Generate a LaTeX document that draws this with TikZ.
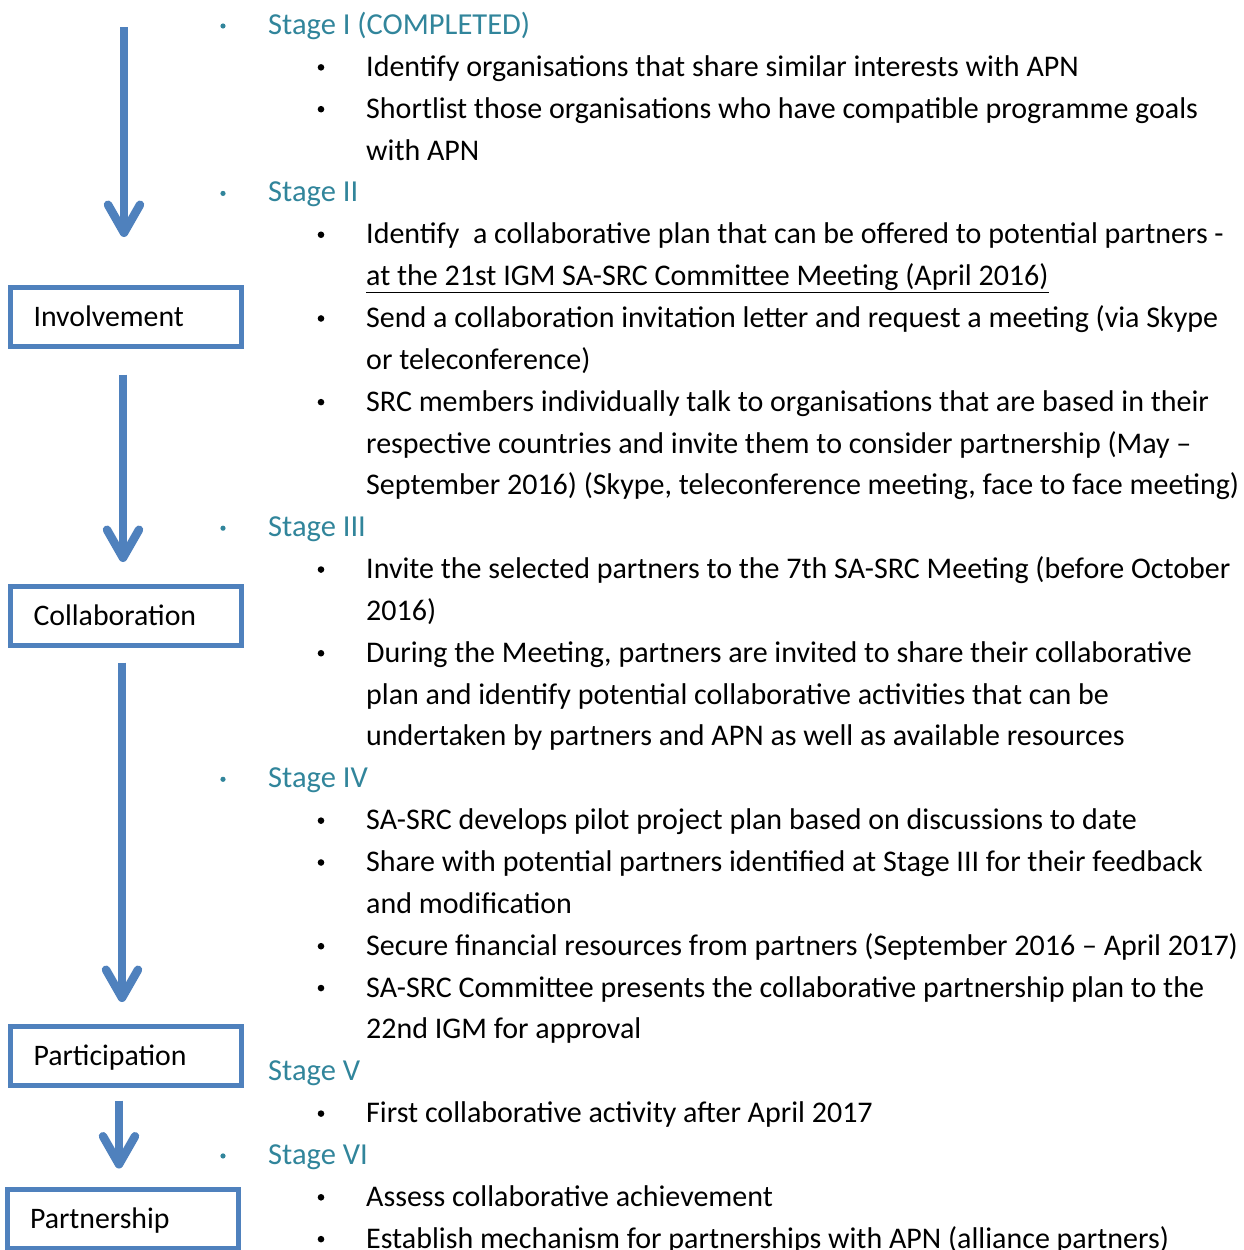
\documentclass[tikz,border=0pt]{standalone}
\usepackage{fontspec}
\setmainfont{Carlito}
\usetikzlibrary{arrows.meta, positioning}
\definecolor{stageteal}{RGB}{49, 133, 155}
\definecolor{flowblue}{RGB}{79, 129, 189}

\begin{document}
\begin{tikzpicture}[x=1pt, y=-1pt,
    phase/.style={draw=flowblue, line width=5pt, minimum width=231pt, minimum height=59pt,
        text width=185pt, inner xsep=23pt, align=left, text height=19.5pt, text depth=0pt,
        font=\fontsize{29.8}{34}\selectfont},
    flow/.style={flowblue, line width=8.5pt,
        -{Straight Barb[length=28pt, width=32pt, line cap=round, line join=round]}},
    stagetxt/.style={anchor=base west, inner sep=0pt, text=stageteal, font=\fontsize{30.5}{34}\selectfont},
    itemtxt/.style={anchor=base west, inner sep=0pt, font=\fontsize{30}{34}\selectfont}]
    \useasboundingbox (0,0) rectangle (1244,1250);

    % left column: the four phases
    \node[phase] (involve) at (126,317) {Involvement};
    \node[phase] (collab) at (126,616) {Collaboration};
    \node[phase] (particip) at (126,1056) {Participation};
    \node[phase] (partner) at (122.5,1218.5) {Partnership};

    \coordinate (start) at (124,27);
    \draw[flow, shorten >=48pt] (start) -- (start |- involve.north);
    \draw[flow, shorten <=25.5pt, shorten >=22pt] ([xshift=-3pt]involve.south) -- ([xshift=-3pt]collab.north);
    \draw[flow, shorten <=14.5pt, shorten >=22pt] ([xshift=-4pt]collab.south) -- ([xshift=-4pt]particip.north);
    \draw[flow, shorten <=12.5pt, shorten >=18pt] ([xshift=-7pt]particip.south) -- ([xshift=-3.5pt]partner.north);

    % right column: stages
    \foreach \r/\t in {0/{Stage I (COMPLETED)}, 4/{Stage II}, 12/{Stage III},
        18/{Stage IV}, 25/{Stage V}, 27/{Stage VI}}
        \node[stagetxt] (stage\r) at (268,{34.5+41.85*\r}) {\t};
    \foreach \r in {0,4,12,18,27}
        \fill[stageteal] (223,{26+41.85*\r}) circle (2.6);

    % items under each stage
    \foreach \r/\t in {
        1/{Identify organisations that share similar interests with APN},
        2/{Shortlist those organisations who have compatible programme goals},
        3/{with APN},
        5/{Identify\ \ a collaborative plan that can be offered to potential partners -},
        6/{\underline{at the 21st IGM SA-SRC Committee Meeting (April 2016)}},
        7/{Send a collaboration invitation letter and request a meeting (via Skype},
        8/{or teleconference)},
        9/{SRC members individually talk to organisations that are based in their},
        10/{respective countries and invite them to consider partnership (May –},
        11/{September 2016) (Skype, teleconference meeting, face to face meeting)},
        13/{Invite the selected partners to the 7th SA-SRC Meeting (before October},
        14/{2016)},
        15/{During the Meeting, partners are invited to share their collaborative},
        16/{plan and identify potential collaborative activities that can be},
        17/{undertaken by partners and APN as well as available resources},
        19/{SA-SRC develops pilot project plan based on discussions to date},
        20/{Share with potential partners identified at Stage III for their feedback},
        21/{and modification},
        22/{Secure financial resources from partners (September 2016 – April 2017)},
        23/{SA-SRC Committee presents the collaborative partnership plan to the},
        24/{22nd IGM for approval},
        26/{First collaborative activity after April 2017},
        28/{Assess collaborative achievement},
        29/{Establish mechanism for partnerships with APN (alliance partners)}}
        \node[itemtxt] (line\r) at (366,{34.5+41.85*\r}) {\t};
    \foreach \r in {1,2,5,7,9,13,15,19,20,22,23,26,28,29}
        \fill (321,{25.5+41.85*\r}) circle (3.3);
\end{tikzpicture}
\end{document}
